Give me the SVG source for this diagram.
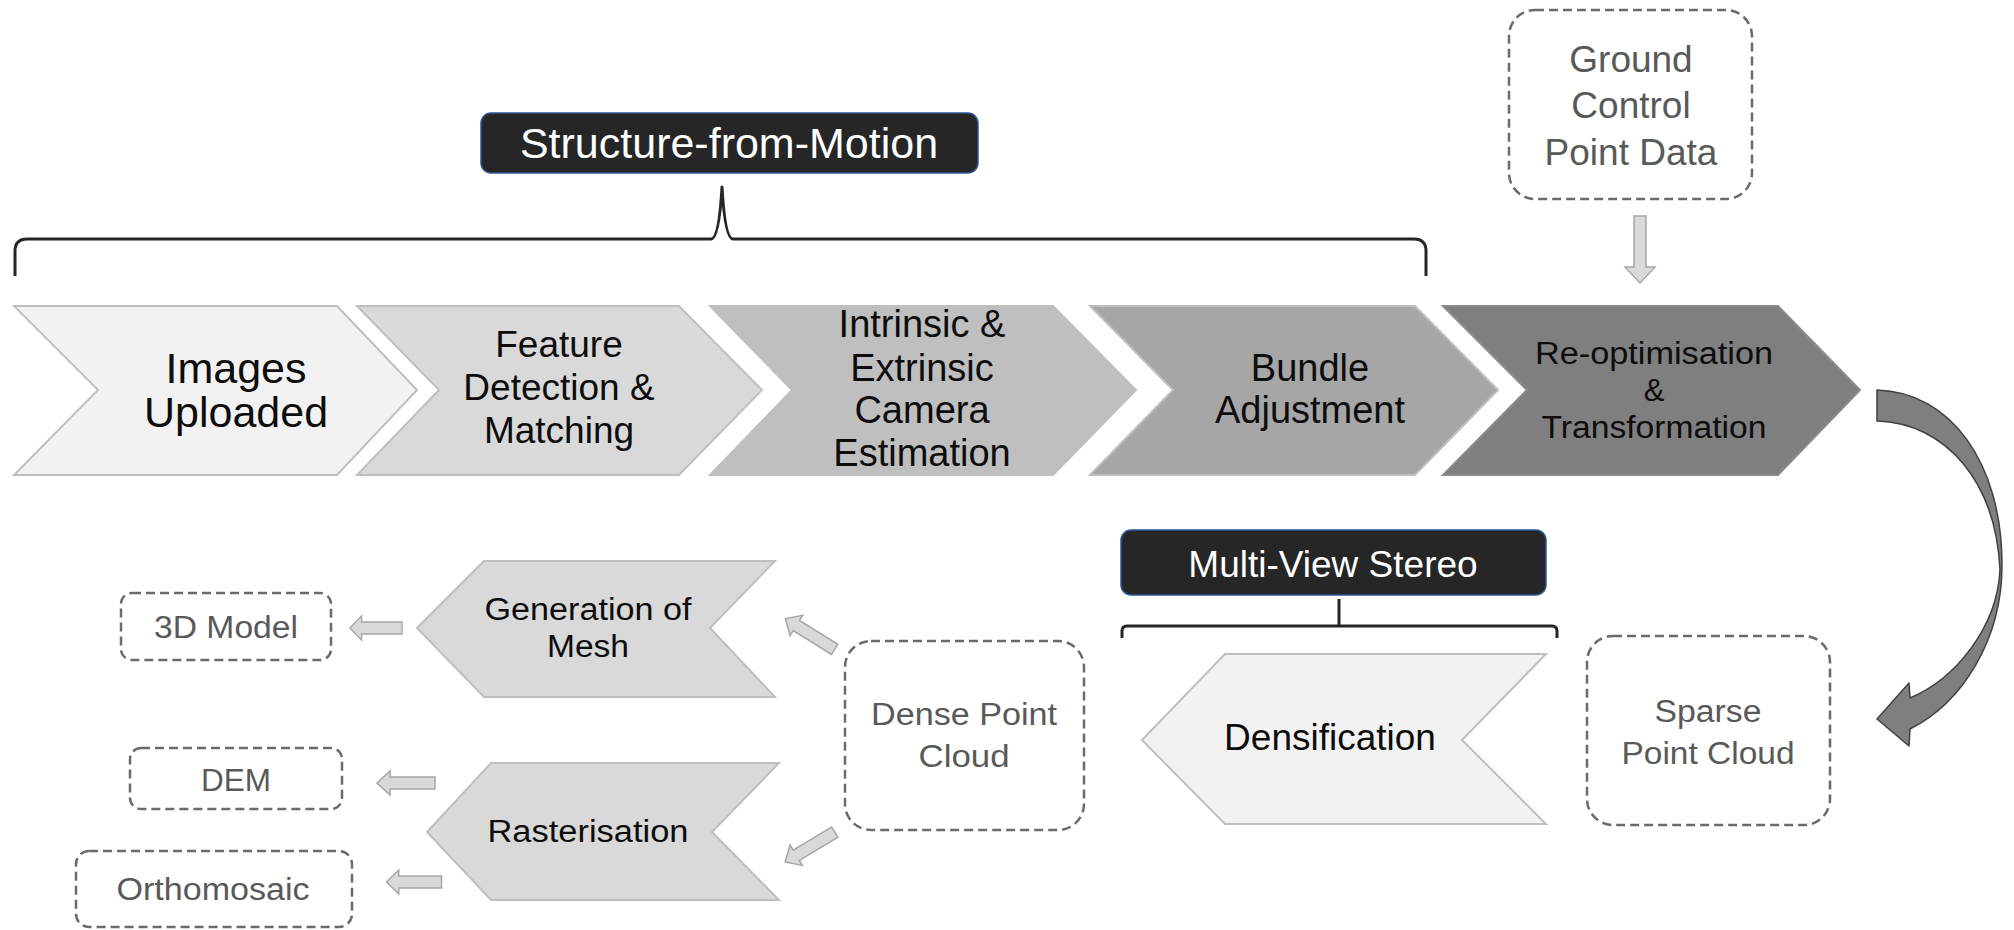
<svg xmlns="http://www.w3.org/2000/svg" width="2014" height="930" viewBox="0 0 2014 930">
<style>
text{font-family:"Liberation Sans",Arial,sans-serif;text-anchor:middle}
.blk{fill:#0d0d0d}
.gry{fill:#595959}
.wht{fill:#ffffff}
.dash{fill:#ffffff;stroke:#6b6b6b;stroke-width:2.5;stroke-dasharray:9 5}
.chev{stroke:#bfbfbf;stroke-width:2}
.label{fill:#262626;stroke:#2f5597;stroke-width:1.5}
.brace{fill:none;stroke:#262626;stroke-width:3;stroke-linejoin:round}
.sarrow{fill:#d9d9d9;stroke:#a6a6a6;stroke-width:1.5}
</style>
<defs>
<polygon id="la" points="-29,0 -16,-12 -16,-6 29,-6 29,6 -16,6 -16,12"/>
</defs>

<g id="sfm-label">
<rect class="label" x="481" y="113" width="497" height="60" rx="10"/>
<text class="wht" x="729" y="158" font-size="43">Structure-from-Motion</text>
</g>
<g id="sfm-brace">
<path class="brace" d="M15,276 L15,251 Q15,239 27,239 L711,239 Q719,239 722,187 Q725,239 733,239 L1414,239 Q1426,239 1426,251 L1426,276"/>
</g>

<g id="images-uploaded">
<polygon class="chev" fill="#f2f2f2" points="14,306 337,306 417,390 337,475 14,475 98,390"/>
<text class="blk" x="236" y="383" font-size="43">Images</text>
<text class="blk" x="236" y="427" font-size="43">Uploaded</text>
</g>
<g id="feature-detection">
<polygon class="chev" fill="#d9d9d9" points="357,306 679,306 762,390 679,475 357,475 439,390"/>
<text class="blk" x="559" y="357" font-size="37">Feature</text>
<text class="blk" x="559" y="400" font-size="37">Detection &amp;</text>
<text class="blk" x="559" y="443" font-size="37">Matching</text>
</g>
<g id="camera-estimation">
<polygon class="chev" fill="#bfbfbf" points="710,306 1053,306 1136,390 1053,475 710,475 792,390"/>
<text class="blk" x="922" y="337" font-size="38">Intrinsic &amp;</text>
<text class="blk" x="922" y="381" font-size="38">Extrinsic</text>
<text class="blk" x="922" y="423" font-size="38">Camera</text>
<text class="blk" x="922" y="466" font-size="38">Estimation</text>
</g>
<g id="bundle-adjustment">
<polygon class="chev" fill="#a6a6a6" stroke="#b0b0b0" points="1090,306 1415,306 1498,390 1415,475 1090,475 1173,390"/>
<text class="blk" x="1310" y="381" font-size="38">Bundle</text>
<text class="blk" x="1310" y="423" font-size="38">Adjustment</text>
</g>
<g id="reoptimisation">
<polygon fill="#7f7f7f" stroke="#8a8a8a" stroke-width="2" points="1443,306 1778,306 1860,390 1778,475 1443,475 1527,390"/>
<text class="blk" x="1654" y="364" font-size="31" textLength="238" lengthAdjust="spacingAndGlyphs">Re-optimisation</text>
<text class="blk" x="1654" y="401" font-size="31">&amp;</text>
<text class="blk" x="1654" y="438" font-size="31" textLength="225" lengthAdjust="spacingAndGlyphs">Transformation</text>
</g>

<g id="gcp-data">
<rect class="dash" x="1509" y="10" width="243" height="189" rx="26"/>
<text class="gry" x="1631" y="72" font-size="37">Ground</text>
<text class="gry" x="1631" y="118" font-size="37">Control</text>
<text class="gry" x="1631" y="165" font-size="37">Point Data</text>
</g>

<g id="mvs-label">
<rect class="label" x="1121" y="530" width="425" height="65" rx="10"/>
<text class="wht" x="1333" y="577" font-size="37">Multi-View Stereo</text>
</g>
<g id="mvs-brace">
<path class="brace" d="M1122,638 L1122,631 Q1122,626 1127,626 L1552,626 Q1557,626 1557,631 L1557,638 M1339,599 L1339,626"/>
</g>

<g id="densification">
<polygon class="chev" fill="#f2f2f2" points="1225,654 1546,654 1462,740 1546,824 1225,824 1142,740"/>
<text class="blk" x="1330" y="750" font-size="37">Densification</text>
</g>
<g id="sparse-point-cloud">
<rect class="dash" x="1587" y="636" width="243" height="189" rx="26"/>
<text class="gry" x="1708" y="722" font-size="31" textLength="107" lengthAdjust="spacingAndGlyphs">Sparse</text>
<text class="gry" x="1708" y="764" font-size="31" textLength="173" lengthAdjust="spacingAndGlyphs">Point Cloud</text>
</g>
<g id="dense-point-cloud">
<rect class="dash" x="845" y="641" width="239" height="189" rx="26"/>
<text class="gry" x="964" y="725" font-size="31" textLength="186" lengthAdjust="spacingAndGlyphs">Dense Point</text>
<text class="gry" x="964" y="767" font-size="31" textLength="91" lengthAdjust="spacingAndGlyphs">Cloud</text>
</g>
<g id="generation-of-mesh">
<polygon class="chev" fill="#d9d9d9" points="484,561 775,561 710,628 775,697 484,697 417,628"/>
<text class="blk" x="588" y="620" font-size="31" textLength="207" lengthAdjust="spacingAndGlyphs">Generation of</text>
<text class="blk" x="588" y="657" font-size="31" textLength="82" lengthAdjust="spacingAndGlyphs">Mesh</text>
</g>
<g id="rasterisation">
<polygon class="chev" fill="#d9d9d9" points="491,763 779,763 712,832 779,900 491,900 427,832"/>
<text class="blk" x="588" y="842" font-size="31" textLength="201" lengthAdjust="spacingAndGlyphs">Rasterisation</text>
</g>
<g id="model-3d">
<rect class="dash" x="121" y="593" width="210" height="67" rx="11"/>
<text class="gry" x="226" y="638" font-size="31" textLength="144" lengthAdjust="spacingAndGlyphs">3D Model</text>
</g>
<g id="dem">
<rect class="dash" x="130" y="748" width="212" height="61" rx="11"/>
<text class="gry" x="236" y="791" font-size="31" textLength="70" lengthAdjust="spacingAndGlyphs">DEM</text>
</g>
<g id="orthomosaic">
<rect class="dash" x="76" y="851" width="276" height="76" rx="13"/>
<text class="gry" x="213" y="900" font-size="31" textLength="193" lengthAdjust="spacingAndGlyphs">Orthomosaic</text>
</g>

<g id="connectors">
<polygon class="sarrow" points="1634,216 1646,216 1646,267 1655,267 1640,283 1625,267 1634,267"/>
<path fill="#7f7f7f" stroke="#404040" stroke-width="1.5" stroke-linejoin="round" d="M1877,390 C1950,392 2002,462 2002,565 C2002,640 1962,703 1910,729 L1909,746 L1877,719 L1909,683 L1910,698 C1955,679 1997,628 2000,570 C1996,482 1946,423 1877,421 Z"/>
<use href="#la" class="sarrow" transform="translate(376,628) scale(0.9,1)"/>
<use href="#la" class="sarrow" transform="translate(406,783)"/>
<use href="#la" class="sarrow" transform="translate(414,882) scale(0.95,1)"/>
<use href="#la" class="sarrow" transform="translate(810,634) rotate(32)"/>
<use href="#la" class="sarrow" transform="translate(810,847) rotate(-31)"/>
</g>
</svg>
